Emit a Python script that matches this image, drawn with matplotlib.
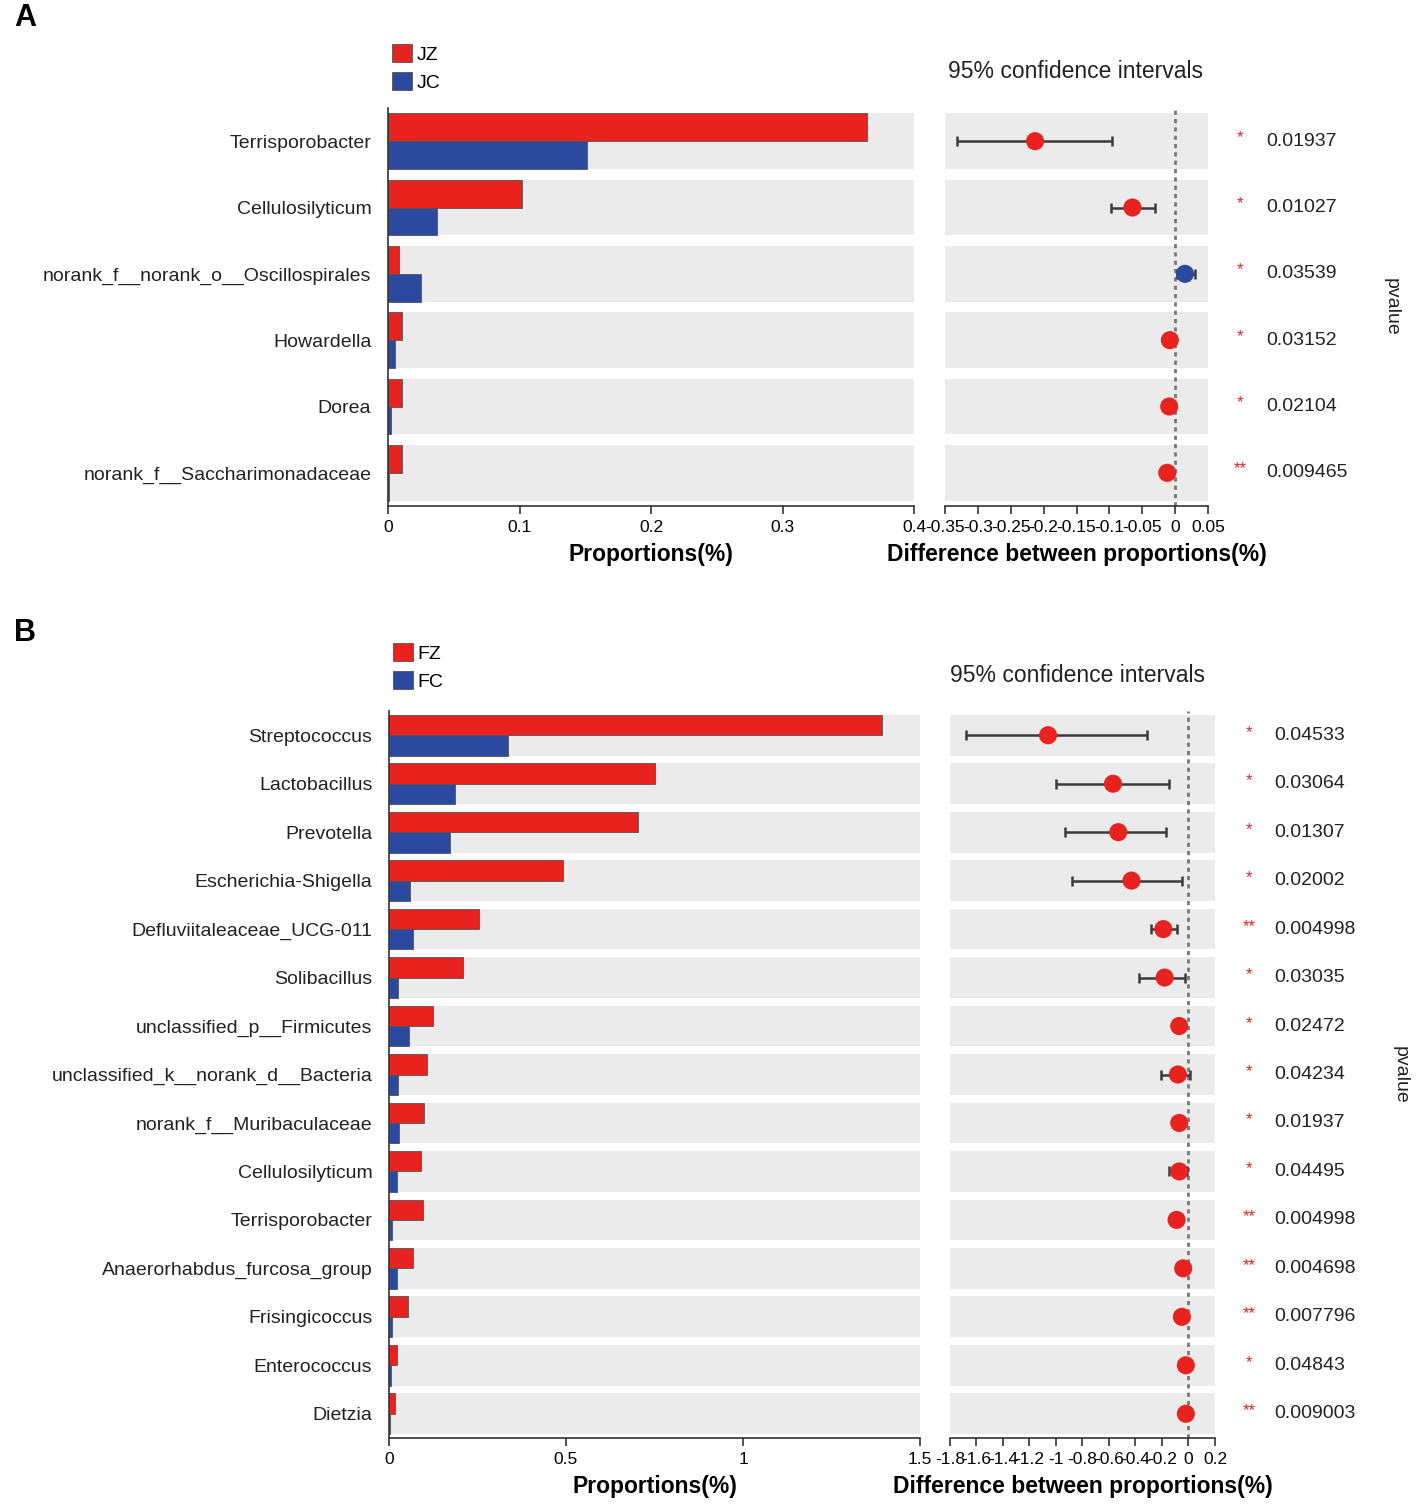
import numpy as np
import matplotlib
matplotlib.use('Agg')
from matplotlib import pyplot as plt
from matplotlib.ticker import FuncFormatter

plt.rcParams['font.family'] = ['Liberation Sans', 'DejaVu Sans']
plt.rcParams['axes.unicode_minus'] = False

# ---- panel A data ----
a_taxa = ['Terrisporobacter', 'Cellulosilyticum', 'norank_f__norank_o__Oscillospirales',
          'Howardella', 'Dorea', 'norank_f__Saccharimonadaceae']
a_jz = [0.364, 0.102, 0.008, 0.011, 0.011, 0.011]
a_jc = [0.151, 0.037, 0.025, 0.005, 0.002, 0.001]
a_diff = [-0.213, -0.065, 0.015, -0.008, -0.009, -0.012]
a_lo = [-0.331, -0.097, 0.003, -0.011, -0.012, -0.017]
a_hi = [-0.096, -0.030, 0.030, -0.005, -0.006, -0.007]
a_p = ['0.01937', '0.01027', '0.03539', '0.03152', '0.02104', '0.009465']
a_groups = ['JZ', 'JC']

# ---- panel B data ----
b_taxa = ['Streptococcus', 'Lactobacillus', 'Prevotella', 'Escherichia-Shigella',
          'Defluviitaleaceae_UCG-011', 'Solibacillus', 'unclassified_p__Firmicutes',
          'unclassified_k__norank_d__Bacteria', 'norank_f__Muribaculaceae',
          'Cellulosilyticum', 'Terrisporobacter', 'Anaerorhabdus_furcosa_group',
          'Frisingicoccus', 'Enterococcus', 'Dietzia']
b_fz = [1.393, 0.751, 0.703, 0.492, 0.254, 0.209, 0.124, 0.107, 0.099, 0.090,
        0.096, 0.068, 0.054, 0.023, 0.017]
b_fc = [0.336, 0.186, 0.172, 0.059, 0.068, 0.025, 0.056, 0.025, 0.028, 0.023,
        0.008, 0.023, 0.008, 0.006, 0.003]
b_diff = [-1.06, -0.57, -0.53, -0.43, -0.19, -0.18, -0.07, -0.08, -0.07, -0.07,
          -0.09, -0.04, -0.05, -0.02, -0.02]
b_lo = [-1.68, -1.00, -0.93, -0.88, -0.28, -0.37, -0.09, -0.21, -0.09, -0.15,
        -0.11, -0.06, -0.07, -0.03, -0.03]
b_hi = [-0.31, -0.15, -0.17, -0.05, -0.09, -0.03, -0.05, 0.01, -0.05, -0.01,
        -0.07, -0.02, -0.03, -0.01, -0.01]
b_p = ['0.04533', '0.03064', '0.01307', '0.02002', '0.004998', '0.03035', '0.02472',
       '0.04234', '0.01937', '0.04495', '0.004998', '0.004698', '0.007796',
       '0.04843', '0.009003']
b_groups = ['FZ', 'FC']

RED = '#e8221f'
BLUE = '#2b4a9f'
BAND = '#ebebeb'
W, H = 1418, 1508

fig = plt.figure(figsize=(W / 100, H / 100), dpi=100)


def px_axes(l, t, r, b):
    return fig.add_axes([l / W, 1 - b / H, (r - l) / W, (b - t) / H])


fmt = FuncFormatter(lambda v, pos: '%g' % (round(v, 3) + 0.0))


def panel(box_bar, box_ci, taxa, g1, g2, groups, diff, lo, hi, pvals,
          xmax, xticks, ci_lim, ci_ticks, leg_y, title_x, title_y, star_x, p_x, pv_x,
          letter, letter_y):
    n = len(taxa)
    y = np.arange(n)
    band_h = 0.84

    ax = px_axes(*box_bar)
    for yi in y:
        ax.axhspan(yi - band_h / 2, yi + band_h / 2, color=BAND, lw=0, zorder=0)
    b1 = ax.barh(y - 0.21, g1, height=0.42, color=RED, edgecolor='#555555', lw=0.6,
                 label=groups[0], zorder=2)
    b2 = ax.barh(y + 0.21, g2, height=0.42, color=BLUE, edgecolor='#555555', lw=0.6,
                 label=groups[1], zorder=2)
    ax.set_ylim(n - 0.5, -0.5)
    ax.set_xlim(0, xmax)
    ax.set_xticks(xticks)
    ax.xaxis.set_major_formatter(fmt)
    ax.set_yticks(y)
    ax.set_yticklabels(taxa, fontsize=14, color='#222222')
    ax.tick_params(axis='y', length=0, pad=12)
    ax.tick_params(axis='x', labelsize=12.5, length=6, width=1.2, color='#333333', pad=4)
    for s in ['top', 'right']:
        ax.spines[s].set_visible(False)
    for s in ['left', 'bottom']:
        ax.spines[s].set_color('#333333')
        ax.spines[s].set_linewidth(1.2)
    ax.set_xlabel('Proportions(%)', fontsize=16.5, fontweight='bold', labelpad=6)

    fig.legend(handles=[b1, b2], loc='lower left',
               bbox_to_anchor=((box_bar[0] + 4) / W, 1 - leg_y / H),
               frameon=False, fontsize=14, handlelength=1.05, handleheight=1.05,
               handletextpad=0.2, labelspacing=0.45, borderpad=0, borderaxespad=0)

    cx = px_axes(*box_ci)
    for yi in y:
        cx.axhspan(yi - band_h / 2, yi + band_h / 2, color=BAND, lw=0, zorder=0)
    cx.axvline(0, color='#777777', ls=(0, (1.5, 1.5)), lw=2, zorder=1)
    diff = np.array(diff)
    err = np.vstack([diff - np.array(lo), np.array(hi) - diff])
    cx.errorbar(diff, y, xerr=err, fmt='none', ecolor='#3a3a3a', elinewidth=1.8,
                capsize=3.5, capthick=1.8, zorder=2)
    cols = [RED if d < 0 else BLUE for d in diff]
    cx.scatter(diff, y, s=170, c=cols, zorder=3, linewidths=0)
    cx.set_ylim(n - 0.5, -0.5)
    cx.set_xlim(*ci_lim)
    cx.set_xticks(ci_ticks)
    cx.xaxis.set_major_formatter(fmt)
    cx.set_yticks([])
    cx.tick_params(axis='x', labelsize=12.5, length=6, width=1.2, color='#333333', pad=4)
    for s in ['top', 'right', 'left']:
        cx.spines[s].set_visible(False)
    cx.spines['bottom'].set_color('#333333')
    cx.spines['bottom'].set_linewidth(1.2)
    cx.set_xlabel('Difference between proportions(%)', fontsize=16.5,
                  fontweight='bold', labelpad=6)

    trans = cx.get_yaxis_transform()
    w = box_ci[2] - box_ci[0]
    for yi, p in zip(y, pvals):
        stars = '**' if float(p) < 0.01 else '*'
        cx.text((star_x - box_ci[0]) / w, yi - 0.06, stars, transform=trans,
                color=RED, fontsize=12, ha='center', va='center', clip_on=False)
        cx.text((p_x - box_ci[0]) / w, yi, p, transform=trans, fontsize=14,
                color='#222222', ha='left', va='center', clip_on=False)

    fig.text(title_x / W, 1 - title_y / H, '95% confidence intervals', fontsize=16.5,
             ha='center', va='center', color='#222222')
    ymid = (box_ci[1] + box_ci[3]) / 2
    fig.text(pv_x / W, 1 - ymid / H, 'pvalue', rotation=270, fontsize=14,
             ha='center', va='center', color='#222222')
    fig.text(25 / W, 1 - letter_y / H, letter, fontsize=22, fontweight='bold',
             ha='center', va='center')


panel((388, 108, 914, 506), (945, 108, 1208, 506), a_taxa, a_jz, a_jc, a_groups,
      a_diff, a_lo, a_hi, a_p, 0.4, [0, 0.1, 0.2, 0.3, 0.4],
      (-0.35, 0.05), np.round(np.arange(-0.35, 0.051, 0.05), 2),
      leg_y=92, title_x=1075, title_y=72, star_x=1240, p_x=1266, pv_x=1391,
      letter='A', letter_y=18)

panel((389, 711, 920, 1438), (950, 711, 1215, 1438), b_taxa, b_fz, b_fc, b_groups,
      b_diff, b_lo, b_hi, b_p, 1.5, [0, 0.5, 1, 1.5],
      (-1.8, 0.2), np.round(np.arange(-1.8, 0.21, 0.2), 1),
      leg_y=691, title_x=1077, title_y=675, star_x=1249, p_x=1274, pv_x=1400,
      letter='B', letter_y=633)

fig.savefig('out.png', dpi=100)
